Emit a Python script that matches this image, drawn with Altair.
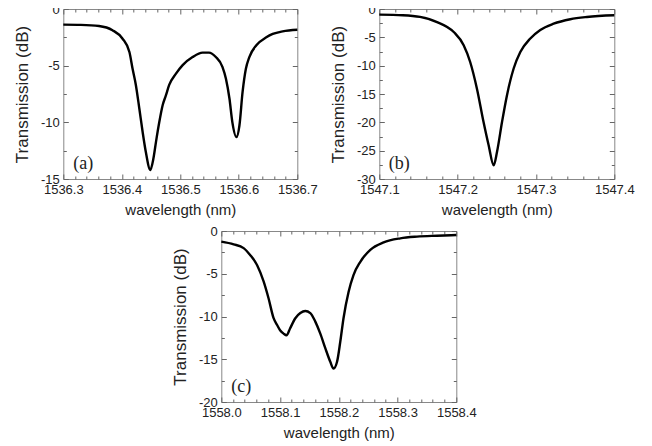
import altair as alt
import pandas as pd

# ---- data ----
A_WL = [1536.300, 1536.330, 1536.361, 1536.384, 1536.401, 1536.413, 1536.4185, 1536.424, 1536.430,
        1536.4356, 1536.441, 1536.4487, 1536.454, 1536.4585, 1536.464, 1536.4698, 1536.4755, 1536.481,
        1536.4926, 1536.504, 1536.521, 1536.538, 1536.549, 1536.5607, 1536.572, 1536.578, 1536.584,
        1536.589, 1536.596, 1536.601, 1536.6065, 1536.612, 1536.618, 1536.630, 1536.647, 1536.658,
        1536.675, 1536.700]
A_T = [-1.38, -1.40, -1.5, -1.87, -2.6, -3.8, -5.3, -6.7, -8.8, -10.85, -12.6, -14.2, -13.2, -11.7,
       -10.0, -8.5, -7.6, -6.7, -5.7, -4.95, -4.24, -3.85, -3.85, -4.24, -5.1, -6.15, -7.9, -10.0,
       -11.3, -10.3, -7.3, -5.3, -4.24, -3.2, -2.5, -2.2, -1.97, -1.83]

B_WL = [1547.100, 1547.130, 1547.152, 1547.1737, 1547.195, 1547.2077, 1547.216, 1547.2247, 1547.233,
        1547.2395, 1547.246, 1547.2503, 1547.2567, 1547.263, 1547.2715, 1547.280, 1547.2928, 1547.3055,
        1547.3225, 1547.3438, 1547.365, 1547.400]
B_T = [-1.0, -1.1, -1.4, -2.3, -4.06, -6.4, -9.35, -14.1, -19.9, -24.0, -27.6, -25.2, -19.9, -15.2,
       -10.5, -7.6, -5.2, -3.7, -2.6, -1.8, -1.4, -1.1]

C_WL = [1558.000, 1558.021, 1558.038, 1558.049, 1558.061, 1558.072, 1558.0805, 1558.089, 1558.095,
        1558.100, 1558.106, 1558.111, 1558.117, 1558.126, 1558.1345, 1558.143, 1558.1515, 1558.160,
        1558.1685, 1558.177, 1558.1855, 1558.191, 1558.197, 1558.2026, 1558.208, 1558.2167, 1558.225,
        1558.2366, 1558.2536, 1558.2763, 1558.3047, 1558.333, 1558.367, 1558.400]
C_T = [-1.25, -1.56, -2.0, -2.8, -4.0, -5.9, -7.9, -10.2, -11.0, -11.6, -12.0, -12.2, -11.4, -10.2,
       -9.6, -9.36, -9.6, -10.6, -12.0, -13.7, -15.3, -16.1, -15.3, -12.9, -10.2, -7.1, -5.15, -3.6,
       -2.2, -1.33, -0.86, -0.66, -0.55, -0.47]

# tick labels
A_XTICKS = [1536.3, 1536.4, 1536.5, 1536.6, 1536.7]
B_XTICKS = [1547.1, 1547.2, 1547.3, 1547.4]
C_XTICKS = [1558.0, 1558.1, 1558.2, 1558.3, 1558.4]
A_YTICKS = [0, -5, -10, -15]
B_YTICKS = [0, -5, -10, -15, -20, -25, -30]
C_YTICKS = [0, -5, -10, -15, -20]

FONT = "Liberation Sans"
TXT = "#222222"
TICK = "#666666"


def minor_between(major, n):
    out = []
    for a, b in zip(major[:-1], major[1:]):
        for k in range(1, n):
            out.append(round(a + (b - a) * k / n, 4))
    return out


def panel(wl, t, xticks, yticks, letter, w, h):
    df = pd.DataFrame({"wl": wl, "t": t})
    xdom = [min(xticks), max(xticks)]
    ydom = [min(yticks), max(yticks)]
    xminor = minor_between(xticks, 5)
    yminor = minor_between(yticks, 2)
    common = dict(grid=False, domain=False, tickColor=TICK, tickWidth=1,
                  labelFont=FONT, labelFontSize=13, labelColor=TXT,
                  titleFont=FONT, titleFontWeight="normal", titleColor=TXT)

    def layer(xaxis, yaxis, visible):
        return alt.Chart(df).mark_line(
            color="black", strokeWidth=2.4, interpolate="monotone",
            strokeOpacity=1 if visible else 0,
        ).encode(
            x=alt.X("wl:Q", scale=alt.Scale(domain=xdom, nice=False, zero=False), axis=xaxis),
            y=alt.Y("t:Q", scale=alt.Scale(domain=ydom, nice=False, zero=False), axis=yaxis),
        )

    l1 = layer(
        alt.Axis(orient="bottom", values=xticks, labelExpr="format(datum.value, '.1f')",
                 tickSize=5, offset=-5, labelPadding=4, labelFlush=False, labelOverlap=False,
                 title="wavelength (nm)", titleFontSize=15, titlePadding=6, **common),
        alt.Axis(orient="left", values=yticks, labelExpr="'' + datum.value",
                 tickSize=5, offset=-5, labelPadding=4, labelFlush=False, labelOverlap=False,
                 title="Transmission (dB)", titleFontSize=17, titlePadding=9, **common),
        True)
    l2 = layer(
        alt.Axis(orient="top", values=xticks, labels=False, tickSize=5, offset=-5, title=None, **common),
        alt.Axis(orient="right", values=yticks, labels=False, tickSize=5, offset=-5, title=None, **common),
        False)
    l3 = layer(
        alt.Axis(orient="bottom", values=xminor, labels=False, tickSize=3, offset=-3, title=None, **common),
        alt.Axis(orient="left", values=yminor, labels=False, tickSize=3, offset=-3, title=None, **common),
        False)
    l4 = layer(
        alt.Axis(orient="top", values=xminor, labels=False, tickSize=3, offset=-3, title=None, **common),
        alt.Axis(orient="right", values=yminor, labels=False, tickSize=3, offset=-3, title=None, **common),
        False)
    lab = alt.Chart(pd.DataFrame({"txt": [letter]})).mark_text(
        font="Liberation Serif", fontSize=18, color=TXT, align="center", baseline="middle"
    ).encode(text="txt:N", x=alt.value(20), y=alt.value(h - 15))
    return alt.layer(l1, l2, l3, l4, lab).resolve_axis(x="independent", y="independent").properties(
        width=w, height=h)


pa = panel(A_WL, A_T, A_XTICKS, A_YTICKS, "(a)", 234, 170)
pb = panel(B_WL, B_T, B_XTICKS, B_YTICKS, "(b)", 235, 170)
pc = panel(C_WL, C_T, C_XTICKS, C_YTICKS, "(c)", 235, 171)

top = alt.hconcat(pa, pb, spacing=10)
chart = alt.vconcat(top, pc, spacing=6, center=True).properties(
    padding={"left": 5, "top": -6, "right": 0, "bottom": 0}
).configure_view(stroke="#888888", strokeWidth=1)

chart.save("out.html", embed_options={"renderer": "svg", "actions": False})
